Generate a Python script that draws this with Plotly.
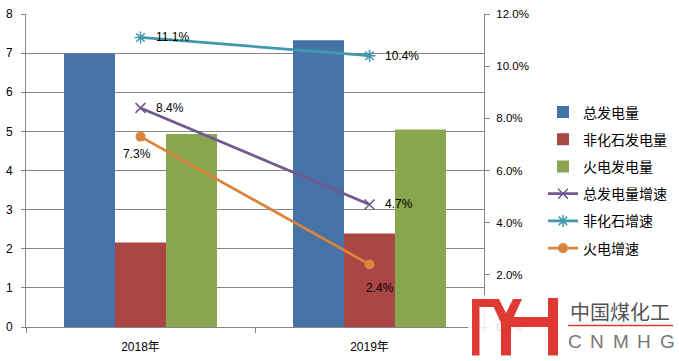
import plotly.graph_objects as go

# ---------------- data ----------------
categories = ["2018年", "2019年"]
total_gen = [6.99, 7.33]          # 总发电量
nonfossil_gen = [2.16, 2.39]      # 非化石发电量
thermal_gen = [4.93, 5.05]        # 火电发电量
total_growth = [8.4, 4.7]         # 总发电量增速 (%)
nonfossil_growth = [11.1, 10.4]   # 非化石增速 (%)
thermal_growth = [7.3, 2.4]       # 火电增速 (%)

bar_names = ["总发电量", "非化石发电量", "火电发电量"]
line_names = ["总发电量增速", "非化石增速", "火电增速"]

left_range = [0, 8]
right_range = [0, 12]

# ---------------- styling ----------------
W, H = 679, 361
ML, MR, MT, MB = 26, 195, 14, 34
PW, PH = W - ML - MR, H - MT - MB

bar_colors = ["#4572A7", "#AA4643", "#89A54E"]
line_colors = ["#71588F", "#4198AF", "#DB843D"]
grid = "#868686"
num_font = "Liberation Sans, Noto Sans CJK SC, sans-serif"
cjk_font = "Noto Sans CJK SC, Liberation Sans, sans-serif"

fig = go.Figure()

for i, (name, vals) in enumerate(zip(bar_names, [total_gen, nonfossil_gen, thermal_gen])):
    fig.add_trace(go.Bar(
        x=categories, y=vals, name=name, marker=dict(color=bar_colors[i], line=dict(width=0)),
        legendgroup=name, yaxis="y",
    ))

markers = [
    dict(symbol="x-thin-open", size=10, line=dict(width=1.5, color=line_colors[0])),
    dict(symbol="asterisk-open", size=10, line=dict(width=1.5, color=line_colors[1])),
    dict(symbol="circle", size=10),
]
line_series = [total_growth, nonfossil_growth, thermal_growth]
for i, (name, vals) in enumerate(zip(line_names, line_series)):
    fig.add_trace(go.Scatter(
        x=categories, y=vals, name=name, mode="lines+markers",
        line=dict(color=line_colors[i], width=2.75),
        marker=dict(color=line_colors[i], **markers[i]),
        legendgroup=name, yaxis="y2",
    ))

# data labels (positions relative to the data points)
label_offsets = {
    0: [("left", 13, 0), ("left", 13, 0)],
    1: [("left", 13, 0), ("left", 13, 0)],
    2: [("center", -4, -17), ("center", 10, -24)],
}
annotations = []
for i, vals in enumerate(line_series):
    for j, v in enumerate(vals):
        anchor, xs, ys = label_offsets[i][j]
        annotations.append(dict(
            x=categories[j], y=v, xref="x", yref="y2", text=f"{v:.1f}%",
            showarrow=False, xanchor=anchor, yanchor="middle", xshift=xs, yshift=ys,
            font=dict(family=num_font, size=12, color="#000000"),
        ))


def px(x):
    return (x - ML) / PW


def py(y):
    return (H - MB - y) / PH


# watermark logo
shapes = []
shapes.append(dict(type="rect", xref="paper", yref="paper", layer="above",
                   x0=px(468), x1=px(679), y0=py(361), y1=py(295),
                   fillcolor="rgba(255,255,255,0.85)", line=dict(width=0)))
red = "#DE3A33"


def poly(points):
    d = "M " + " L ".join(f"{px(a):.5f},{py(b):.5f}" for a, b in points) + " Z"
    return dict(type="path", xref="paper", yref="paper", layer="above", path=d,
                fillcolor=red, line=dict(width=0))


# left leg + top bar
shapes.append(poly([(472, 299), (494, 299), (494, 307), (479.5, 307), (479.5, 355.5), (472, 355.5)]))
# V part
shapes.append(poly([(490, 299), (499, 299), (506, 313), (513, 299), (522, 299), (511, 323), (501, 323)]))
# stem
shapes.append(poly([(501, 316), (511, 316), (511, 355.5), (501, 355.5)]))
# crossbar
shapes.append(poly([(511, 317), (549, 317), (549, 327), (511, 327)]))
# right leg
shapes.append(poly([(548, 298), (558, 298), (558, 355.5), (548, 355.5)]))
# red line under company name
shapes.append(dict(type="line", xref="paper", yref="paper", layer="above",
                   x0=px(568), x1=px(673), y0=py(325.5), y1=py(325.5),
                   line=dict(color=red, width=1.5)))

annotations.append(dict(x=px(620), y=py(311), xref="paper", yref="paper", text="中国煤化工",
                        showarrow=False, xanchor="center", yanchor="middle",
                        font=dict(family=cjk_font, size=20, color="#555555")))
letters = ["C", "N", "M", "H", "G"]
letter_x = [575, 597, 621, 644, 667]
for ch, lx in zip(letters, letter_x):
    annotations.append(dict(x=px(lx), y=py(341), xref="paper", yref="paper", text=ch,
                            showarrow=False, xanchor="center", yanchor="middle",
                            font=dict(family="Liberation Sans, sans-serif", size=19, color="#777777")))

fig.update_layout(
    width=W, height=H,
    margin=dict(l=ML, r=MR, t=MT, b=MB, pad=0, autoexpand=False),
    paper_bgcolor="white", plot_bgcolor="white",
    barmode="group", bargap=0.332, bargroupgap=0,
    showlegend=True,
    legend=dict(
        x=px(543), y=py(96.5), xanchor="left", yanchor="top",
        font=dict(family=cjk_font, size=14, color="#000000"),
        traceorder="grouped", tracegroupgap=6, itemwidth=30,
        bgcolor="rgba(0,0,0,0)",
    ),
    xaxis=dict(
        type="category", showgrid=False, showline=True, linecolor=grid, linewidth=1,
        ticks="outside", tickson="boundaries", ticklen=5, tickcolor=grid,
        tickfont=dict(family=num_font, size=12, color="#000000"),
        zeroline=False, automargin=False, ticklabelstandoff=9,
    ),
    yaxis=dict(
        range=left_range, dtick=1, showgrid=True, gridcolor=grid, gridwidth=1,
        showline=True, linecolor=grid, ticks="outside", ticklen=4, tickcolor=grid,
        tickfont=dict(family=num_font, size=12, color="#000000"),
        zeroline=False, ticklabelstandoff=6, automargin=False,
    ),
    yaxis2=dict(
        range=right_range, dtick=2, overlaying="y", side="right", showgrid=False,
        showline=True, linecolor=grid, ticks="outside", ticklen=5, tickcolor=grid,
        tickformat=".1f", ticksuffix="%",
        tickfont=dict(family=num_font, size=11.5, color="#000000"),
        zeroline=False, ticklabelstandoff=4, automargin=False,
    ),
    annotations=annotations,
    shapes=shapes,
)

fig.write_html("out.html", post_script="document.body.style.margin='0';",
               config={"displayModeBar": False})
